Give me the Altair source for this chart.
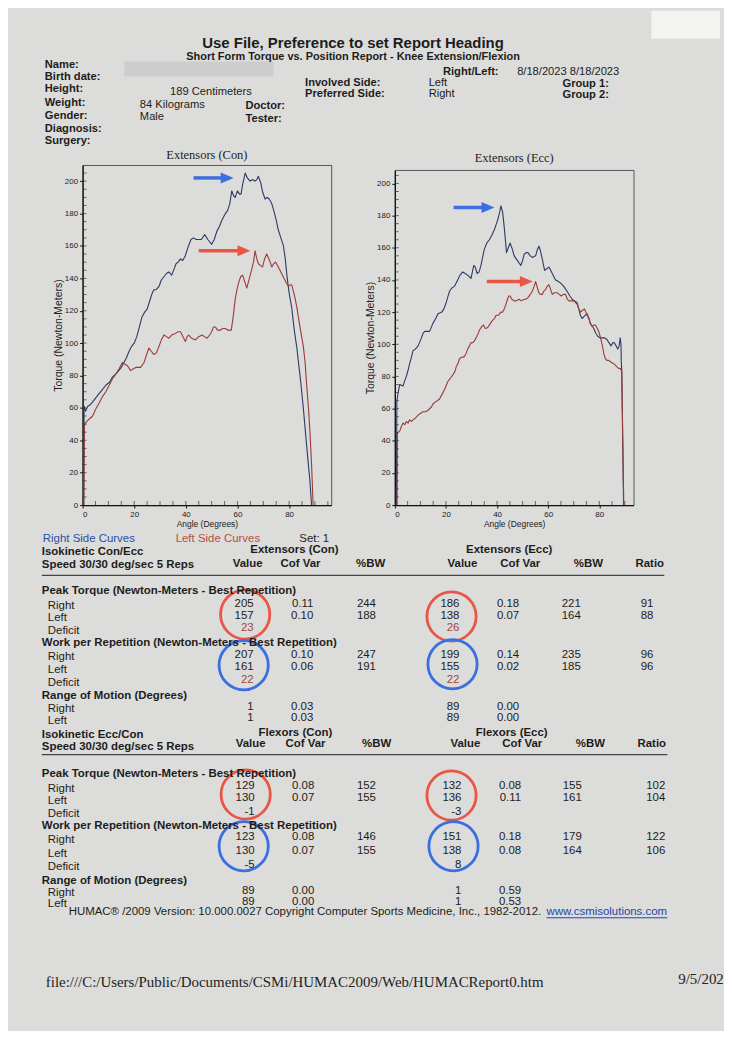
import altair as alt
import pandas as pd

# ---------------- curve data (angle in degrees, torque in newton-meters) ----------------
con_right_angle = [0.4, 0.6, 1.2, 2.0, 3.0, 4.5, 6.0, 7.5, 9.0, 10.5, 11.5, 12.9, 14.0, 15.0, 16.0, 17.0, 18.0, 19.0,
                   20.0, 21.0, 22.0, 23.0, 24.0, 25.0, 26.0, 27.0, 27.6, 28.5, 29.6, 30.5, 31.5, 32.5, 33.4, 34.5,
                   35.5, 36.2, 37.0, 37.9, 38.8, 39.8, 41.0, 42.0, 43.0, 44.0, 45.0, 46.0, 47.3, 48.5, 50.0, 51.0,
                   52.0, 53.0, 54.0, 55.3, 56.2, 57.0, 57.8, 58.5, 59.1, 60.0, 60.8, 61.4, 62.0, 63.0, 63.8, 64.9,
                   65.8, 66.8, 67.5, 68.1, 69.0, 69.8, 70.7, 71.5, 72.3, 73.3, 74.2, 75.0, 75.8, 76.8, 77.8, 78.5,
                   79.2, 80.0, 81.0, 82.0, 83.0, 83.5, 84.5, 85.5, 86.0, 87.0, 88.0, 88.7]
con_right_torque = [0, 61, 58, 61, 62, 65, 68, 71, 74, 76, 79, 81, 83, 85, 88, 91, 95, 98, 100, 104, 110, 116, 119,
                    121, 126, 131, 133, 133, 135, 139, 141, 143, 144, 142, 146, 149, 150, 152, 151, 154, 160, 164,
                    165, 164, 164, 164, 167, 164, 161, 164, 169, 172, 176, 180, 182, 186, 194, 191, 190, 194, 192,
                    192, 198, 205, 202, 200, 201, 200, 201, 203, 199, 193, 189, 190, 189, 186, 181, 176, 170, 165,
                    160, 152, 141, 131, 122, 108, 97, 90, 76, 60, 51, 33, 16, 0]
con_left_angle = [0.5, 0.7, 1.3, 2.5, 3.9, 5.0, 6.4, 7.7, 9.0, 10.3, 11.6, 12.9, 14.1, 15.4, 16.4, 17.4, 18.6, 19.5,
                  20.6, 21.5, 22.5, 23.8, 24.8, 25.7, 26.6, 27.6, 28.6, 29.6, 30.5, 31.5, 32.5, 33.4, 34.5, 36.0,
                  37.0, 37.9, 38.9, 39.8, 40.5, 41.1, 42.3, 43.7, 45.0, 46.3, 47.2, 48.2, 49.2, 50.0, 50.7, 51.4,
                  52.3, 53.3, 54.3, 55.3, 56.3, 57.6, 58.4, 59.1, 59.8, 60.4, 61.2, 62.0, 62.8, 63.6, 64.6, 65.6,
                  66.2, 66.8, 67.5, 68.1, 68.9, 69.7, 70.5, 71.3, 72.2, 73.3, 74.0, 74.8, 75.8, 77.1, 78.0, 79.0,
                  79.8, 80.5, 81.0, 82.0, 82.9, 84.2, 85.5, 86.2, 86.8, 87.5, 88.0, 88.7, 89.3]
con_left_torque = [0, 49, 51, 53, 55, 59, 63, 67, 70, 74, 78, 81, 84, 88, 87, 86, 83, 84, 85, 85, 85, 88, 93, 97, 95,
                   93, 94, 98, 102, 105, 104, 103, 105, 106, 107, 107, 104, 101, 104, 105, 103, 102, 104, 105, 104,
                   103, 105, 107, 110, 110, 108, 108, 109, 109, 108, 108, 117, 127, 133, 137, 141, 142, 138, 134,
                   140, 146, 150, 157, 152, 149, 148, 147, 152, 155, 152, 147, 149, 150, 147, 143, 140, 137, 135,
                   136, 136, 130, 123, 110, 98, 88, 74, 60, 47, 25, 0]
ecc_right_angle = [0.6, 0.8, 1.3, 1.9, 3.2, 4.0, 4.5, 5.2, 5.8, 6.5, 7.1, 8.0, 9.1, 10.4, 11.1, 11.7, 12.5, 13.6,
                   14.9, 16.0, 16.9, 18.4, 19.2, 20.1, 21.4, 22.3, 23.3, 24.6, 25.5, 26.6, 27.5, 28.5, 29.8, 30.9,
                   31.5, 32.2, 33.0, 33.7, 35.0, 36.0, 37.0, 38.0, 38.9, 40.2, 41.0, 41.5, 42.2, 42.8, 43.7, 44.4,
                   45.1, 46.0, 46.7, 48.0, 49.3, 50.0, 50.6, 51.4, 52.1, 53.0, 53.8, 55.1, 55.8, 56.4, 57.0, 57.7,
                   58.6, 59.5, 60.3, 61.0, 61.6, 62.9, 64.0, 64.9, 66.1, 67.4, 68.5, 69.4, 70.3, 71.3, 72.0, 72.6,
                   73.3, 73.9, 75.2, 76.0, 76.5, 77.8, 78.6, 79.4, 80.3, 81.1, 82.0, 83.0, 83.8, 84.6, 85.3, 85.9,
                   86.6, 87.2, 87.8, 88.2, 88.5, 88.6, 88.8, 89.5]
ecc_right_torque = [0, 65, 70, 75, 74, 78, 80, 84, 88, 92, 96, 97, 99, 104, 107, 108, 108, 108, 113, 116, 119, 120,
                    122, 126, 133, 135, 136, 140, 143, 145, 144, 143, 141, 149, 148, 144, 145, 149, 159, 163, 165,
                    168, 171, 177, 182, 186, 182, 173, 157, 160, 163, 159, 155, 152, 149, 152, 156, 157, 157, 155,
                    154, 155, 159, 161, 158, 153, 146, 147, 148, 146, 144, 140, 139, 138, 136, 133, 130, 128, 127,
                    126, 122, 118, 116, 117, 119, 116, 113, 110, 107, 105, 104, 104, 104, 103, 101, 99, 101, 101, 99,
                    97, 99, 104, 100, 90, 84, 0]
ecc_left_angle = [0.9, 1.0, 1.9, 2.6, 3.2, 3.9, 4.5, 5.2, 5.8, 6.5, 7.1, 8.0, 9.1, 10.0, 11.0, 12.0, 13.0, 14.3, 15.0,
                  15.8, 16.7, 17.5, 18.5, 19.5, 20.8, 21.8, 22.7, 23.5, 24.0, 24.7, 25.3, 26.2, 27.0, 27.8, 28.5,
                  29.2, 29.8, 30.5, 31.1, 31.8, 32.4, 33.2, 34.0, 34.7, 35.3, 36.0, 36.6, 37.4, 38.3, 39.0, 39.6,
                  40.5, 41.5, 42.2, 42.8, 43.5, 44.1, 44.6, 45.1, 45.8, 46.7, 47.5, 48.6, 49.5, 50.6, 51.3, 52.1,
                  53.0, 53.8, 54.5, 55.1, 55.8, 56.4, 57.0, 57.7, 58.3, 59.0, 59.6, 60.3, 61.0, 61.6, 62.5, 63.6,
                  64.3, 65.1, 66.0, 66.8, 67.5, 68.1, 69.0, 70.0, 70.6, 71.3, 72.0, 72.6, 73.4, 74.2, 75.0, 75.9,
                  76.5, 77.2, 78.0, 78.5, 79.2, 79.8, 80.5, 81.1, 81.8, 82.4, 83.0, 83.7, 84.5, 85.6, 86.3, 86.9,
                  87.6, 88.2, 88.8, 89.6]
ecc_left_torque = [0, 45, 46, 49, 51, 50, 52, 51, 53, 52, 53, 54, 56, 57, 58, 58, 59, 61, 63, 64, 65, 66, 69, 72, 77,
                   79, 81, 83, 86, 88, 91, 92, 92, 94, 97, 99, 101, 101, 102, 104, 106, 109, 111, 112, 110, 110, 111,
                   113, 115, 116, 118, 118, 120, 120, 122, 125, 128, 130, 130, 128, 127, 127, 128, 127, 128, 128,
                   129, 131, 133, 136, 139, 135, 132, 131, 131, 133, 134, 136, 137, 134, 131, 132, 132, 131, 130,
                   131, 131, 128, 127, 127, 127, 126, 125, 122, 120, 121, 122, 119, 116, 113, 111, 112, 112, 110,
                   108, 104, 100, 94, 91, 90, 90, 89, 88, 87, 86, 85, 85, 83, 0]

# hand-drawn arrows on the photo (start angle, tip angle, torque level)
con_arrow_start = [43, 45]
con_arrow_tip = [58.5, 65]
con_arrow_level = [202, 157]
ecc_arrow_start = [23, 36]
ecc_arrow_tip = [39, 54]
ecc_arrow_level = [185, 139]

# ---------------- report text ----------------
report_title = "Use File, Preference to set Report Heading"
report_subtitle = "Short Form Torque vs. Position Report - Knee Extension/Flexion"
patient_labels = ["Name:", "Birth date:", "Height:", "Weight:", "Gender:", "Diagnosis:", "Surgery:"]
patient_values = ["189 Centimeters", "84 Kilograms", "Male"]
staff_labels = ["Doctor:", "Tester:"]
side_labels = ["Right/Left:", "Involved Side:", "Preferred Side:"]
side_values = ["8/18/2023 8/18/2023", "Left", "Right"]
group_labels = ["Group 1:", "Group 2:"]
chart_titles = ["Extensors (Con)", "Extensors (Ecc)"]
x_title = "Angle (Degrees)"
y_title = "Torque (Newton-Meters)"
x_tick_labels = [0, 20, 40, 60, 80]
y_tick_labels = [0, 20, 40, 60, 80, 100, 120, 140, 160, 180, 200]

legend_texts = ["Right Side Curves", "Left Side Curves", "Set: 1"]
block_titles = ["Isokinetic Con/Ecc", "Isokinetic Ecc/Con"]
speed_text = "Speed 30/30 deg/sec 5 Reps"
ext_groups = ["Extensors (Con)", "Extensors (Ecc)"]
flex_groups = ["Flexors (Con)", "Flexors (Ecc)"]
column_headers = ["Value", "Cof Var", "%BW", "Value", "Cof Var", "%BW", "Ratio"]
section_titles = ["Peak Torque (Newton-Meters - Best Repetition)",
                  "Work per Repetition (Newton-Meters - Best Repetition)",
                  "Range of Motion (Degrees)"]
row_labels = ["Right", "Left", "Deficit"]

ext_peak = [["205", "0.11", "244", "186", "0.18", "221", "91"],
            ["157", "0.10", "188", "138", "0.07", "164", "88"],
            ["23", "", "", "26", "", "", ""]]
ext_work = [["207", "0.10", "247", "199", "0.14", "235", "96"],
            ["161", "0.06", "191", "155", "0.02", "185", "96"],
            ["22", "", "", "22", "", "", ""]]
ext_rom = [["1", "0.03", "", "89", "0.00", "", ""],
           ["1", "0.03", "", "89", "0.00", "", ""]]
flex_peak = [["129", "0.08", "152", "132", "0.08", "155", "102"],
             ["130", "0.07", "155", "136", "0.11", "161", "104"],
             ["-1", "", "", "-3", "", "", ""]]
flex_work = [["123", "0.08", "146", "151", "0.18", "179", "122"],
             ["130", "0.07", "155", "138", "0.08", "164", "106"],
             ["-5", "", "", "8", "", "", ""]]
flex_rom = [["89", "0.00", "", "1", "0.59", "", ""],
            ["89", "0.00", "", "1", "0.53", "", ""]]

copyright_text = "HUMAC\u00ae /2009 Version: 10.000.0027 Copyright Computer Sports Medicine, Inc., 1982-2012."
url_text = "www.csmisolutions.com"
footer_path = "file:///C:/Users/Public/Documents/CSMi/HUMAC2009/Web/HUMACReport0.htm"
footer_date = "9/5/202"

# ---------------- styles & layout ----------------
SANS = "Liberation Sans"
SERIF = "Liberation Serif"
INK = "#1c1c1c"
BG = "#dcdcda"
BLUE_LINE = "#2c3a66"
RED_LINE = "#9a3b37"
BLUE_TXT = "#2d4da6"
RED_TXT = "#bf4a44"
DEF_RED = "#a4463e"
MARK_RED = "#ea5645"
MARK_BLUE = "#3b6fe0"
ARROW_COLORS = [MARK_BLUE, MARK_RED]

ROW_TOP = 163          # page y of the plot areas' top
ROW_H = 342            # plot area height (left chart)
OX, OY = 8, ROW_TOP    # page origin of the text panel (left of the first chart)

ONE = pd.DataFrame({"a": [0]})


def texts(strings, xs, ys, align="left", bold=False, size=11.5, color=INK, font=SANS):
    rows = [(s, x - OX, y - OY) for s, x, y in zip(strings, xs, ys) if s != ""]
    df = pd.DataFrame(rows, columns=["t", "px", "py"])
    return alt.Chart(df).mark_text(
        align=align, baseline="middle", font=font, fontSize=size,
        fontWeight="bold" if bold else "normal", color=color
    ).encode(
        x=alt.X("px:Q", scale=None, axis=None),
        y=alt.Y("py:Q", scale=None, axis=None),
        text=alt.Text("t:N"),
    )


def box(x0, x1, y0, y1, color):
    return alt.Chart(ONE).mark_rect(color=color).encode(
        x=alt.value(x0 - OX), x2=alt.value(x1 - OX), y=alt.value(y0 - OY), y2=alt.value(y1 - OY))


def hline(x0, x1, y, color, width):
    return alt.Chart(ONE).mark_rule(color=color, strokeWidth=width).encode(
        x=alt.value(x0 - OX), x2=alt.value(x1 - OX), y=alt.value(y - OY))


def rings(xs, ys, color):
    df = pd.DataFrame({"px": [x - OX for x in xs], "py": [y - OY for y in ys]})
    return alt.Chart(df).mark_point(shape="circle", filled=False, size=2450, strokeWidth=2.8,
                                    color=color, opacity=1).encode(
        x=alt.X("px:Q", scale=None, axis=None), y=alt.Y("py:Q", scale=None, axis=None))


def spacer(w, h):
    return alt.Chart(ONE).mark_point(opacity=0).properties(
        width=w, height=h, view=alt.ViewBackground(strokeOpacity=0))


# ---------------- torque charts ----------------
def torque_chart(title, r_a, r_t, l_a, l_t, a_s, a_t, a_l, w, h, xmax, ymax, title_dy):
    df = pd.concat([
        pd.DataFrame({"angle": r_a, "torque": r_t, "side": "Right", "k": range(len(r_a))}),
        pd.DataFrame({"angle": l_a, "torque": l_t, "side": "Left", "k": range(len(l_a))}),
    ], ignore_index=True)
    xs = alt.Scale(domain=[0, xmax], nice=False, zero=False)
    ys = alt.Scale(domain=[0, ymax], nice=False, zero=False)
    common = dict(grid=False, domainColor="#111", domainWidth=1.3, tickColor="#111", tickSize=3, tickWidth=1,
                  labelFont=SANS, labelFontSize=8, labelColor="#222", titleFont=SANS,
                  titleFontWeight="normal", titleColor="#222", labelPadding=2, format="d")
    x_axis = alt.Axis(title=x_title, values=x_tick_labels, titleFontSize=8.5, titlePadding=2, **common)
    y_axis = alt.Axis(title=y_title, values=y_tick_labels, titleFontSize=10.5, titlePadding=1, **common)

    def X(f):
        return alt.X(f, scale=xs, axis=x_axis)

    def Y(f):
        return alt.Y(f, scale=ys, axis=y_axis)

    lines = alt.Chart(df).mark_line(strokeWidth=1.1, strokeJoin="round").encode(
        x=X("angle:Q"), y=Y("torque:Q"),
        color=alt.Color("side:N", scale=alt.Scale(domain=["Left", "Right"], range=[RED_LINE, BLUE_LINE]),
                        legend=None),
        order=alt.Order("k:Q"),
    )
    yminor = alt.Chart(pd.DataFrame({"v": list(range(5, int(ymax), 5))})).mark_tick(
        orient="horizontal", size=4, thickness=1, color="#333").encode(y=Y("v:Q"), x=alt.value(2))
    xminor = alt.Chart(pd.DataFrame({"v": list(range(5, int(xmax) + 1, 5))})).mark_tick(
        orient="vertical", size=4, thickness=1, color="#333").encode(x=X("v:Q"), y=alt.value(h - 2))
    layers = [lines, yminor, xminor]
    for s, t, lv, c in zip(a_s, a_t, a_l, ARROW_COLORS):
        adf = pd.DataFrame({"s": [s], "t": [t], "lv": [lv]})
        layers.append(alt.Chart(adf).mark_rule(color=c, strokeWidth=3.5, x2Offset=-9).encode(
            x=X("s:Q"), x2="t:Q", y=Y("lv:Q")))
        layers.append(alt.Chart(adf).mark_point(
            shape="M -1 -0.85 L 1 0 L -1 0.85 Z", filled=True, size=170, color=c, opacity=1,
            xOffset=-6.5).encode(x=X("t:Q"), y=Y("lv:Q")))
    return alt.layer(*layers).properties(
        width=w, height=h,
        title=alt.TitleParams(title, font=SERIF, fontSize=12.5, fontWeight="normal", color=INK,
                              anchor="middle", offset=2, dy=title_dy),
        view=alt.ViewBackground(stroke="#555", strokeWidth=1, strokeOpacity=1),
    )


left_chart = torque_chart(chart_titles[0], con_right_angle, con_right_torque, con_left_angle, con_left_torque,
                          con_arrow_start, con_arrow_tip, con_arrow_level, 250, ROW_H, 96.3, 210, -2)
right_chart = torque_chart(chart_titles[1], ecc_right_angle, ecc_right_torque, ecc_left_angle, ecc_left_torque,
                           ecc_arrow_start, ecc_arrow_tip, ecc_arrow_level, 240, ROW_H - 5, 93.4, 208.4, -4)

# ---------------- page text panel (header + results table), page coordinates ----------------
EXT_COL_X = [255, 315, 378, 462, 522, 584, 657]
FLEX_COL_X = [256, 316, 378, 464, 524, 585, 669]
EXT_HEAD_X = [234, 282, 358, 450, 503, 577, 639]
FLEX_HEAD_X = [237, 287, 364, 453, 505, 579, 641]
EXT_ROW_Y = [[604.3, 616.5, 629.0], [655.5, 668.3, 681.3], [707.7, 719.5]]
FLEX_ROW_Y = [[788.0, 800.0, 813.3], [839.0, 853.0, 866.7], [892.7, 904.0]]
EXT_SECTION_Y = [591.7, 643.7, 696.7]
FLEX_SECTION_Y = [775.0, 827.5, 882.7]


def block(sections, col_x, row_y, section_y, deficit_color):
    layers = [texts(section_titles, [42] * 3, section_y, bold=True)]
    lab_s, lab_x, lab_y = [], [], []
    num_s, num_x, num_y = [], [], []
    def_s, def_x, def_y = [], [], []
    for rows, ys in zip(sections, row_y):
        for ri, (vals, y) in enumerate(zip(rows, ys)):
            lab_s.append(row_labels[ri])
            lab_x.append(48)
            lab_y.append(y + 2.5)
            for v, x in zip(vals, col_x):
                if ri == 2:
                    def_s.append(v); def_x.append(x); def_y.append(y)
                else:
                    num_s.append(v); num_x.append(x); num_y.append(y)
    layers.append(texts(lab_s, lab_x, lab_y))
    layers.append(texts(num_s, num_x, num_y, align="right"))
    layers.append(texts(def_s, def_x, def_y, align="right", color=deficit_color))
    return layers


panel_layers = [
    box(8, 724, 8, 1031, BG),                      # the sheet of paper
    box(655, 724, 8, 36, "#f3f3f2"),
    box(125, 275, 59, 74, "#cdcdcf"),              # redacted name
    texts([report_title], [355], [40.7], align="center", bold=True, size=15),
    texts([report_subtitle], [355], [54.3], align="center", bold=True, size=11),
    texts(patient_labels, [45] * 7, [62.7, 75, 86.7, 101, 114, 126.7, 139], bold=True, size=11.2),
    texts(patient_values, [171, 140.6, 140.6], [90, 102.7, 115], size=11.2),
    texts(staff_labels, [246.8, 246.8], [104, 116.7], bold=True, size=11.2),
    texts(side_labels, [445.4, 306.7, 306.7], [69.3, 80.7, 91.7], bold=True, size=11.2),
    texts(side_values, [520, 431, 431], [69.3, 80.7, 91.7], size=11.2),
    texts(group_labels, [565.6, 565.6], [81.7, 92.7], bold=True, size=11.2),
    rings([246.5, 454, 247, 454], [615, 617, 796, 797], MARK_RED),
    rings([245, 455, 245, 456], [666, 665, 848, 848], MARK_BLUE),
    texts([legend_texts[0]], [43], [539], color=BLUE_TXT),
    texts([legend_texts[1]], [176.6], [539], color=RED_TXT),
    texts([legend_texts[2]], [301], [539]),
    texts(block_titles, [42, 42], [551.7, 736.7], bold=True),
    texts([speed_text, speed_text], [42, 42], [565, 748.3], bold=True),
    texts(ext_groups + flex_groups, [296, 512, 297, 514.5], [550, 550, 734.3, 734.3],
          align="center", bold=True),
    texts(column_headers, EXT_HEAD_X, [564] * 7, bold=True),
    texts(column_headers, FLEX_HEAD_X, [745.7] * 7, bold=True),
    hline(42, 668, 575.7, "#444", 1.3),
    hline(42, 671, 756, "#444", 1.3),
]
panel_layers += block([ext_peak, ext_work, ext_rom], EXT_COL_X, EXT_ROW_Y, EXT_SECTION_Y, DEF_RED)
panel_layers += block([flex_peak, flex_work, flex_rom], FLEX_COL_X, FLEX_ROW_Y, FLEX_SECTION_Y, INK)
panel_layers += [
    texts([copyright_text], [69], [914]),
    texts([url_text], [549.5], [914], color="#2446a8"),
    hline(549.5, 671, 920, "#2446a8", 1),
    texts([footer_path], [46], [985], font=SERIF, size=15, color="#222"),
    texts([footer_date], [682], [982], font=SERIF, size=15, color="#222"),
]
panel = alt.layer(*panel_layers).properties(
    width=75, height=ROW_H, view=alt.ViewBackground(strokeOpacity=0))

chart = alt.hconcat(
    panel, left_chart, spacer(64, ROW_H),
    alt.vconcat(spacer(240, 5), right_chart, spacing=0, bounds="flush"),
    spacing=0, bounds="flush",
).properties(padding=0, background=BG).configure_view(strokeOpacity=0)

chart.save("out.html", embed_options={"renderer": "svg", "actions": False})
